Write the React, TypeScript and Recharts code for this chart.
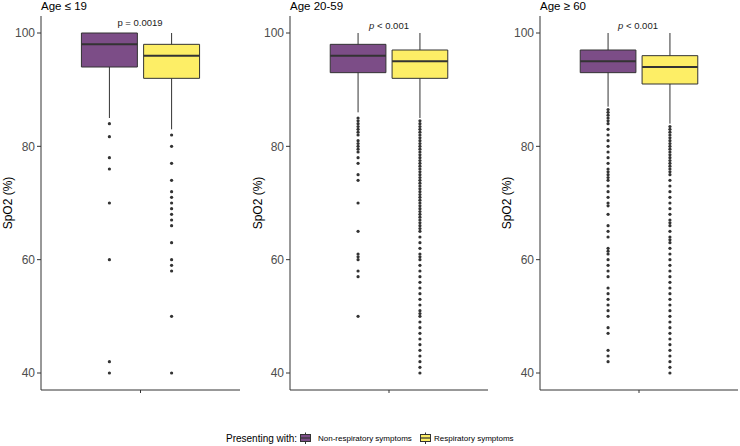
import React from 'react';
import { ComposedChart, XAxis, YAxis, ReferenceArea, ReferenceLine, Scatter } from 'recharts';

const FONT = '"Liberation Sans", Arial, Helvetica, sans-serif';

// ---------- data ----------
const groups = ['Non-respiratory symptoms', 'Respiratory symptoms'];
const groupFills = ['#7C4D87', '#FDEE66'];
const panelTitles = ['Age \u2264 19', 'Age 20-59', 'Age \u2265 60'];
const pValues = ['0.0019', '0.001'];
const yTicks = [40, 60, 80, 100];

// [lower whisker, Q1, median, Q3, upper whisker]
const age19Non = [85, 94, 98, 100, 100];
const age19Resp = [83, 92, 96, 98, 100];
const age2059Non = [86, 93, 96, 98, 100];
const age2059Resp = [85, 92, 95, 97, 100];
const age60Non = [87, 93, 95, 97, 100];
const age60Resp = [84, 91, 94, 96, 100];

// outliers
const age19NonOut = [84, 81.7, 78, 76, 70, 60, 42, 40];
const age19RespOut = [82, 80, 77, 74, 72, 71, 70, 69, 68, 67, 66, 63, 60, 59, 58, 50, 40];
const age2059NonOut = [85, 84.5, 84, 83.5, 83, 82.5, 82, 81, 80.5, 80, 79.5, 79, 78, 77, 75, 74, 70, 65, 61, 60.5, 60, 58, 57, 50];
const age2059RespOut = [
  84.5, 84, 83.5, 83, 82.5, 82, 81.5, 81, 80.5, 80, 79.5, 79, 78.5, 78, 77.5, 77, 76.5, 76, 75.5, 75,
  74.5, 74, 73.5, 73, 72.5, 72, 71.5, 71, 70.5, 70, 69.5, 69, 68.5, 68, 67.5, 67, 66.5, 66, 65.5, 65,
  64, 63, 62, 61, 60.5, 60, 59, 58, 57, 56, 55, 54, 53, 52, 51, 50.5, 50, 49, 48, 47, 46, 45, 44, 43, 42, 41, 40,
];
const age60NonOut = [
  86.5, 86, 85.5, 85, 84.5, 84, 83, 82, 81, 80, 79, 78, 77, 76, 75.5, 75, 74.5, 74, 73, 72, 71, 70, 69.5,
  68, 66, 65, 64, 62, 61.5, 61, 60, 59, 58, 57, 55, 54, 53, 52, 51, 50, 48, 47, 44, 43, 42,
];
const age60RespOut = [
  83.5, 83, 82.5, 82, 81.5, 81, 80.5, 80, 79.5, 79, 78.5, 78, 77.5, 77, 76.5, 76, 75.5, 75,
  74, 73, 72, 71, 70, 69, 68, 67, 66.5, 66, 65, 64, 63.5, 63, 62, 61, 60, 59, 58, 57, 56, 55,
  54, 53, 52, 51, 50, 49, 48, 47, 46, 45, 44, 43, 42, 41, 40,
];

// ---------- layout ----------
const CENTERS = [0.8125, 1.1875];
const HALF = 0.16875;
const AXIS = '#333333';

const dot = (p: any) => <circle cx={p.cx} cy={p.cy} r={1.6} fill="#333333" />;

function Panel(props: {
  left: number;
  width: number;
  yAxisWidth: number;
  labelOffset: number;
  stats: number[][];
  outliers: number[][];
}) {
  const { left, width, yAxisWidth, labelOffset, stats, outliers } = props;
  const parts: any[] = [];
  stats.forEach((s, i) => {
    const c = CENTERS[i];
    parts.push(
      <ReferenceLine key={`lw${i}`} segment={[{ x: c, y: s[0] }, { x: c, y: s[1] }]} stroke={AXIS} strokeWidth={1} />
    );
    parts.push(
      <ReferenceLine key={`uw${i}`} segment={[{ x: c, y: s[3] }, { x: c, y: s[4] }]} stroke={AXIS} strokeWidth={1} />
    );
    parts.push(
      <ReferenceArea
        key={`box${i}`}
        x1={c - HALF}
        x2={c + HALF}
        y1={s[1]}
        y2={s[3]}
        fill={groupFills[i]}
        fillOpacity={1}
        stroke={AXIS}
        strokeWidth={1}
      />
    );
    parts.push(
      <ReferenceLine
        key={`med${i}`}
        segment={[{ x: c - HALF, y: s[2] }, { x: c + HALF, y: s[2] }]}
        stroke={AXIS}
        strokeWidth={2}
      />
    );
  });
  return (
    <div style={{ position: 'absolute', left, top: 0 }}>
      <ComposedChart width={width} height={400} margin={{ top: 16, right: 2, bottom: 0, left: 0 }}>
        <XAxis
          type="number"
          dataKey="x"
          domain={[0.4, 1.6]}
          ticks={[1]}
          allowDataOverflow
          height={10}
          tickSize={3}
          tickFormatter={() => ''}
          axisLine={{ stroke: AXIS }}
          tickLine={{ stroke: AXIS }}
        />
        <YAxis
          type="number"
          dataKey="y"
          domain={[37, 103]}
          ticks={yTicks}
          allowDataOverflow
          width={yAxisWidth}
          tickSize={4}
          tickMargin={2}
          axisLine={{ stroke: AXIS }}
          tickLine={{ stroke: AXIS }}
          tick={{ fill: '#4D4D4D', fontSize: 12, fontFamily: FONT }}
          label={{
            value: 'SpO2 (%)',
            angle: -90,
            position: 'insideLeft',
            offset: labelOffset,
            style: { textAnchor: 'middle', fill: '#000', fontSize: 12, fontFamily: FONT },
          }}
        />
        {parts}
        {outliers.map((o, i) => (
          <Scatter
            key={`out${i}`}
            data={o.map((v) => ({ x: CENTERS[i], y: v }))}
            isAnimationActive={false}
            shape={dot}
          />
        ))}
      </ComposedChart>
    </div>
  );
}

function LegendKey({ x, fill }: { x: number; fill: string }) {
  return (
    <g>
      <line x1={x + 5} x2={x + 5} y1={432.5} y2={444} stroke={AXIS} strokeWidth={1} />
      <rect x={x} y={434.5} width={10} height={7} fill={fill} stroke={AXIS} strokeWidth={1} />
      <line x1={x} x2={x + 10} y1={438} y2={438} stroke={AXIS} strokeWidth={1.2} />
    </g>
  );
}

export default function App() {
  return (
    <div
      style={{
        position: 'absolute',
        left: 0,
        top: 0,
        width: 740,
        height: 446,
        background: '#fff',
        fontFamily: FONT,
        overflow: 'hidden',
      }}
    >
      <Panel left={0} width={242} yAxisWidth={41} labelOffset={8} stats={[age19Non, age19Resp]} outliers={[age19NonOut, age19RespOut]} />
      <Panel left={250} width={240} yAxisWidth={40} labelOffset={8} stats={[age2059Non, age2059Resp]} outliers={[age2059NonOut, age2059RespOut]} />
      <Panel left={500} width={240} yAxisWidth={40} labelOffset={7} stats={[age60Non, age60Resp]} outliers={[age60NonOut, age60RespOut]} />

      <svg
        width={740}
        height={446}
        style={{ position: 'absolute', left: 0, top: 0, pointerEvents: 'none' }}
        fontFamily={FONT}
      >
        <text x={41} y={10} fontSize={11.5} fill="#000">{panelTitles[0]}</text>
        <text x={290} y={10} fontSize={11.5} fill="#000">{panelTitles[1]}</text>
        <text x={540} y={10} fontSize={11.5} fill="#000">{panelTitles[2]}</text>

        <text x={140} y={26} fontSize={9.5} fill="#222" textAnchor="middle">
          p = {pValues[0]}
        </text>
        <text x={389} y={29} fontSize={9.5} fill="#222" textAnchor="middle">
          <tspan fontStyle="italic">p</tspan> &lt; {pValues[1]}
        </text>
        <text x={638} y={29} fontSize={9.5} fill="#222" textAnchor="middle">
          <tspan fontStyle="italic">p</tspan> &lt; {pValues[1]}
        </text>

        <text x={226} y={441.5} fontSize={10} fill="#000">Presenting with:</text>
        <LegendKey x={300.5} fill={groupFills[0]} />
        <text x={318} y={441} fontSize={8} fill="#000">{groups[0]}</text>
        <LegendKey x={420.5} fill={groupFills[1]} />
        <text x={434} y={441} fontSize={8} fill="#000">{groups[1]}</text>
      </svg>
    </div>
  );
}
